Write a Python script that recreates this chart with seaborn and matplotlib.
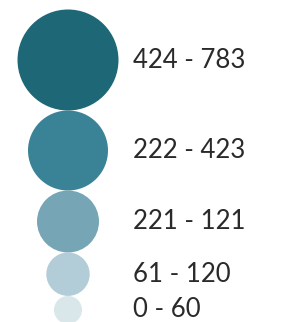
import matplotlib
matplotlib.use('Agg')
import numpy as np
import pandas as pd
import matplotlib.pyplot as plt
import seaborn as sns

# ---------------------------
# Data
# ---------------------------
labels = ["424 - 783", "222 - 423", "221 - 121", "61 - 120", "0 - 60"]
colors = ["#1d6777", "#3a8396", "#76a6b5", "#b2cdd7", "#d9e7eb"]
radii_px = [50.5, 40, 31, 21.7, 14]   # circle radius in pixels

# stack the circles so they just touch
DPI = 100
radii = np.array(radii_px)
centers = 9.5 + np.cumsum(2 * radii) - radii

df = pd.DataFrame({"label": labels, "y": centers, "x": 68.0})

sns.set_style("white")
plt.rcParams['font.family'] = ['Lato', 'DejaVu Sans']

fig = plt.figure(figsize=(2.86, 3.22), dpi=DPI)
ax = fig.add_axes([0, 0, 1, 1])

sizes = {lab: (2 * r * 72 / DPI) ** 2 for lab, r in zip(labels, radii_px)}
palette = dict(zip(labels, colors))

sns.scatterplot(
    data=df, x="x", y="y", hue="label", size="label",
    sizes=sizes, palette=palette, linewidth=0, legend=False, ax=ax,
)

for lab, yc in zip(labels, centers):
    ax.text(133, yc, lab, fontsize=18.5, color="#2a2a2a", va="center", ha="left")

ax.set_xlim(0, 286)
ax.set_ylim(322, 0)
ax.axis("off")

fig.savefig("out.png", dpi=DPI)
plt.close(fig)
